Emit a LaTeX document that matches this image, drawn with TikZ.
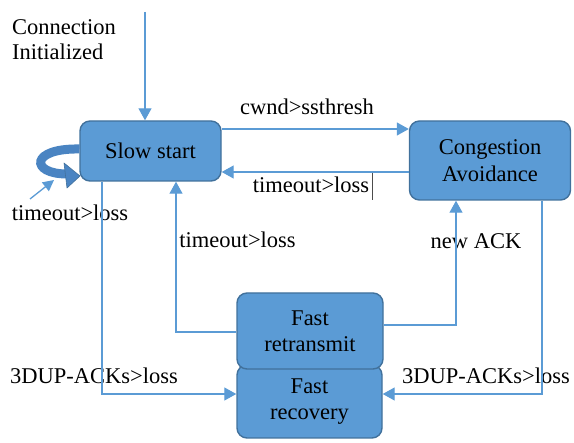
\documentclass[tikz,border=0pt]{standalone}
\usepackage{fontspec}
\setmainfont{Liberation Serif}
\usetikzlibrary{arrows.meta,calc}
\definecolor{boxfill}{HTML}{5B9BD5}
\definecolor{boxedge}{HTML}{41719C}
\definecolor{linec}{HTML}{5B9BD5}
\definecolor{loopc}{HTML}{4A84C2}
\begin{document}
\begin{tikzpicture}[x=1pt,y=-1pt,
  every node/.style={font=\rmfamily\fontsize{22.5}{26.5}\selectfont, inner sep=0pt},
  statebox/.style={draw=boxedge, fill=boxfill, line width=1.4pt, rounded corners=10pt, align=center},
  conn/.style={draw=linec, line width=1.2pt, -{Triangle[length=12pt,width=13pt]}},
  loopband/.style={draw=loopc, line width=9pt},
  loophead/.style={fill=loopc, draw=boxedge, line width=0.6pt, line join=round},
  lbl/.style={anchor=base}]
\useasboundingbox (0,0) rectangle (574,443);

\node[statebox, minimum width=141pt, minimum height=60pt] (ss) at (150.5,151) {Slow start};
\node[statebox, minimum width=161pt, minimum height=79pt] (ca) at (490,160.5) {Congestion\\Avoidance};
\node[statebox, minimum width=145pt, minimum height=73pt] (fr) at (309.5,401.5) {Fast\\recovery};
\node[statebox, minimum width=146pt, minimum height=76pt] (ft) at (310,331) {Fast\\retransmit};

% self loop on Slow start
\coordinate (loopA) at (79.5,149);
\coordinate (loopB) at (67,174);
\coordinate (headTop) at (64,163);
\coordinate (headTip) at (80,176);
\coordinate (headBot) at (67,188);
\draw[loopband] (loopA) .. controls (30,148) and (30,174) .. (loopB);
\draw[loophead] (headTop) -- (headTip) -- (headBot) -- cycle;

% labels
\node[anchor=base west] (init) at (12,35) {Connection};
\node[anchor=base west] (init2) at (12,60) {Initialized};
\node[lbl] (l1) at (307,115) {cwnd>ssthresh};
\node[lbl] (l2) at (311,193) {timeout>loss};
\node[lbl] (l3) at (70,221) {timeout>loss};
\node[lbl] (l4) at (237.5,248) {timeout>loss};
\node[lbl] (l5) at (476,249) {new ACK};
\node[lbl] (l6) at (94,384) {3DUP-ACKs>loss};
\node[lbl] (l7) at (486,384) {3DUP-ACKs>loss};

% helper coordinates
\coordinate (initTop) at (145,12);
\coordinate (yA) at (0,129);
\coordinate (yB) at (0,172);
\coordinate (yC) at (0,332);
\coordinate (yD) at (0,325);
\coordinate (yE) at (0,394);
\coordinate (xA) at (176,0);
\coordinate (xB) at (456,0);
\coordinate (xC) at (102,0);
\coordinate (xD) at (542,0);
\coordinate (loopLblStart) at (30,199);
\coordinate (loopLblEnd) at (54,180);
\coordinate (tickTop) at (372,173);
\coordinate (tickBot) at (372,200);

% connectors
\draw[conn] (initTop) -- (initTop |- ss.north);
\draw[conn] (ss.east |- yA) -- (ca.west |- yA);
\draw[conn] (ca.west |- yB) -- (ss.east |- yB);
\draw[conn] (ft.west |- yC) -| (xA |- ss.south);
\draw[conn] (ft.east |- yD) -| (xB |- ca.south);
\draw[conn] (xC |- ss.south) |- (fr.west |- yE);
\draw[conn] (xD |- ca.south) |- (fr.east |- yE);
\draw[draw=linec, line width=1.3pt, -{Triangle[length=11pt,width=11pt]}] (loopLblStart) -- (loopLblEnd);
\draw[black!70, line width=0.6pt] (tickTop) -- (tickBot);
\end{tikzpicture}
\end{document}
